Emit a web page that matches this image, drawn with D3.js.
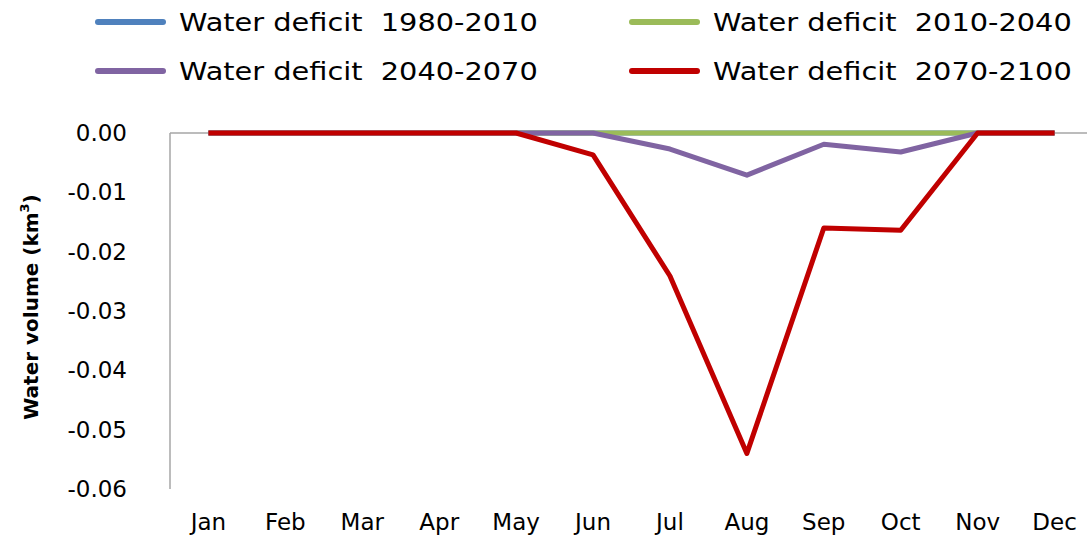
<!DOCTYPE html>
<html>
<head>
<meta charset="utf-8">
<script src="https://cdn.jsdelivr.net/npm/d3@7"></script>
<style>
  body { margin: 0; background: #fff; }
  svg { display: block; }
</style>
</head>
<body>
<script>
var months = ["Jan","Feb","Mar","Apr","May","Jun","Jul","Aug","Sep","Oct","Nov","Dec"];
var seriesNames = ["Water deficit  1980-2010", "Water deficit  2010-2040", "Water deficit  2040-2070", "Water deficit  2070-2100"];
var colors = ["#4f81bd", "#9bbb59", "#8064a2", "#c00000"];
var deficit1980 = [0,0,0,0,0,0,0,0,0,0,0,0];
var deficit2010 = [0,0,0,0,0,0,0,0,0,0,0,0];
var deficit2040 = [0,0,0,0,0,0,-0.0027,-0.0071,-0.0019,-0.0032,0,0];
var deficit2070 = [0,0,0,0,0,-0.0037,-0.0241,-0.054,-0.016,-0.0164,0,0];
var yTicks = [0,-0.01,-0.02,-0.03,-0.04,-0.05,-0.06];

var allSeries = [deficit1980, deficit2010, deficit2040, deficit2070];

var width = 1087, height = 537;
var plotLeft = 170, plotRight = 1093, plotTop = 133, plotBottom = 489;

var svg = d3.select("body").append("svg")
    .attr("width", width)
    .attr("height", height);

var x = d3.scaleBand().domain(months).range([plotLeft, plotRight]);
var y = d3.scaleLinear().domain([-0.06, 0]).range([plotBottom, plotTop]);

// vertical axis line
svg.append("line")
    .attr("x1", plotLeft).attr("x2", plotLeft)
    .attr("y1", y(0)).attr("y2", y(-0.06))
    .attr("stroke", "#a6a6a6").attr("stroke-width", 1.5);

// horizontal axis at zero
svg.append("line")
    .attr("x1", plotLeft).attr("x2", width)
    .attr("y1", y(0)).attr("y2", y(0))
    .attr("stroke", "#a6a6a6").attr("stroke-width", 1.5);

// y tick labels
svg.selectAll("text.ytick")
    .data(yTicks)
    .enter().append("text")
    .attr("class", "ytick")
    .attr("x", 127)
    .attr("y", function(d){ return y(d) + 8; })
    .attr("text-anchor", "end")
    .attr("font-family", "DejaVu Sans")
    .attr("font-size", 23)
    .text(function(d){ return d.toFixed(2); });

// x tick labels
svg.selectAll("text.xtick")
    .data(months)
    .enter().append("text")
    .attr("class", "xtick")
    .attr("x", function(d){ return x(d) + x.bandwidth()/2; })
    .attr("y", 530)
    .attr("text-anchor", "middle")
    .attr("font-family", "DejaVu Sans")
    .attr("font-size", 23)
    .text(function(d){ return d; });

// y axis title
var yt = svg.append("text")
    .attr("transform", "translate(38,307) rotate(-90)")
    .attr("text-anchor", "middle")
    .attr("font-family", "DejaVu Sans")
    .attr("font-weight", "bold")
    .attr("font-size", 20);
yt.append("tspan").text("Water volume (km");
yt.append("tspan").attr("font-size", 13).attr("dy", -9).text("3");
yt.append("tspan").attr("dy", 9).text(")");

// lines
var line = d3.line()
    .x(function(d, i){ return x(months[i]) + x.bandwidth()/2; })
    .y(function(d){ return y(d); });

svg.selectAll("path.series")
    .data(allSeries)
    .enter().append("path")
    .attr("class", "series")
    .attr("fill", "none")
    .attr("stroke", function(d, i){ return colors[i]; })
    .attr("stroke-width", 5)
    .attr("stroke-linejoin", "round")
    .attr("d", line);

// legend
var legendPos = [[98,22],[632,22],[98,71],[632,71]];
var lg = svg.selectAll("g.legend")
    .data(seriesNames)
    .enter().append("g")
    .attr("class", "legend")
    .attr("transform", function(d, i){ return "translate(" + legendPos[i][0] + "," + legendPos[i][1] + ")"; });

lg.append("line")
    .attr("x1", 0).attr("x2", 65)
    .attr("y1", 0).attr("y2", 0)
    .attr("stroke", function(d, i){ return colors[i]; })
    .attr("stroke-width", 6)
    .attr("stroke-linecap", "round");

lg.append("text")
    .attr("transform", "translate(81,9) scale(1.2,1)")
    .attr("font-family", "DejaVu Sans")
    .attr("font-size", 24)
    .style("white-space", "pre")
    .text(function(d){ return d; });
</script>
</body>
</html>
